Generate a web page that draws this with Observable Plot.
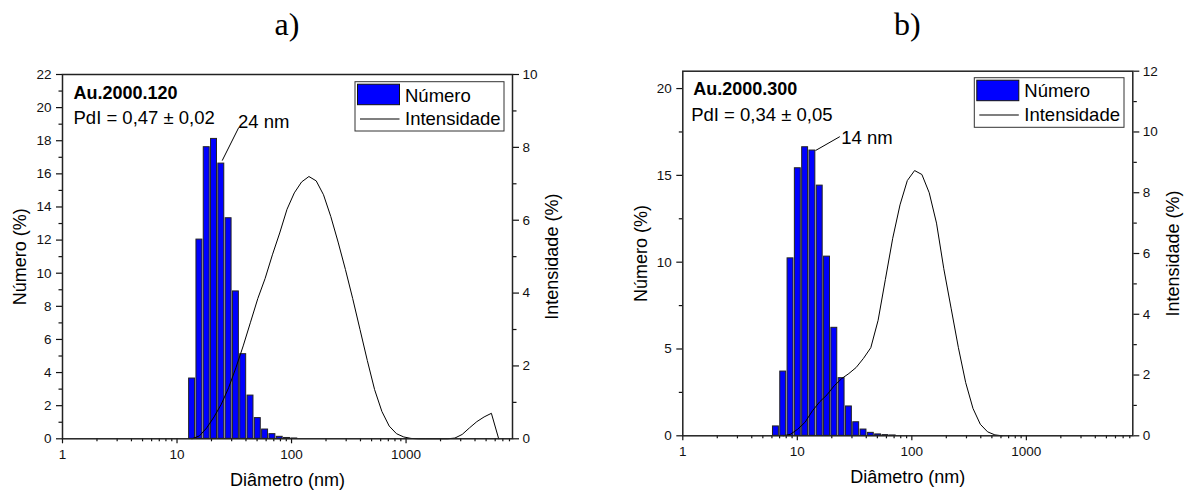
<!DOCTYPE html>
<html><head><meta charset="utf-8">
<script src="https://cdn.jsdelivr.net/npm/d3@7"></script>
<script src="https://cdn.jsdelivr.net/npm/@observablehq/plot@0.6"></script>
<style>
body{margin:0;background:#fff;}
#wrap{position:relative;width:1191px;height:491px;overflow:hidden;background:#fff;font-family:"Liberation Sans",Arial,sans-serif;}
#wrap > svg{position:absolute;top:0;}
</style></head><body><div id="wrap"></div>
<script>
// ---------- data ----------
// Panel a) Au.2000.120
const diamNumA = [13.54, 15.69, 18.17, 21.04, 24.36, 28.21, 32.67, 37.84, 43.82, 50.75, 58.77, 68.06, 78.82, 91.28, 105.7];
const numA     = [3.64, 12.03, 17.61, 18.11, 16.62, 13.32, 8.9, 5.11, 2.61, 1.25, 0.56, 0.28, 0.12, 0.05, 0.02];
const diamIntA = [13.54, 15.69, 18.17, 21.04, 24.36, 28.21, 32.67, 37.84, 43.82, 50.75, 58.77, 68.06, 78.82, 91.28, 105.7, 122.4, 141.8, 164.2, 190.1, 220.2, 255.0, 295.3, 342.0, 396.1, 458.7, 531.2, 615.1, 712.4, 825.0, 955.4, 1106, 1281, 1484, 1718, 1990, 2305, 2669, 3091, 3580, 4145, 4801, 5560, 6439];
const intA     = [0, 0.08, 0.3, 0.6, 0.95, 1.4, 1.95, 2.55, 3.2, 3.85, 4.4, 5.05, 5.65, 6.3, 6.75, 7.05, 7.2, 7.08, 6.7, 6.1, 5.4, 4.65, 3.85, 3.0, 2.15, 1.35, 0.75, 0.35, 0.14, 0.05, 0.01, 0, 0, 0, 0, 0, 0.02, 0.12, 0.3, 0.47, 0.6, 0.7, 0];
// Panel b) Au.2000.300
const diamNumB = [6.503, 7.531, 8.721, 10.1, 11.7, 13.54, 15.69, 18.17, 21.04, 24.36, 28.21, 32.67, 37.84, 43.82, 50.75, 58.77, 68.06];
const numB     = [0.54, 3.70, 10.22, 15.41, 16.62, 16.43, 14.41, 10.32, 6.22, 3.32, 1.69, 0.78, 0.36, 0.17, 0.08, 0.04, 0.02];
const diamIntB = [7.531, 8.721, 10.1, 11.7, 13.54, 15.69, 18.17, 21.04, 24.36, 28.21, 32.67, 37.84, 43.82, 50.75, 58.77, 68.06, 78.82, 91.28, 105.7, 122.4, 141.8, 164.2, 190.1, 220.2, 255.0, 295.3, 342.0, 396.1, 458.7, 531.2, 615.1];
const intB     = [0, 0.05, 0.22, 0.45, 0.82, 1.12, 1.35, 1.65, 1.88, 2.05, 2.25, 2.55, 2.9, 3.8, 5.15, 6.5, 7.6, 8.4, 8.73, 8.6, 8.0, 7.0, 5.5, 4.2, 2.9, 1.75, 0.9, 0.38, 0.13, 0.03, 0];

const xMajor = [1, 10, 100, 1000];
const xMinorMult = [2, 3, 4, 5, 6, 7, 8, 9];
const xMax = 8500;
const yMajorA = [0, 2, 4, 6, 8, 10, 12, 14, 16, 18, 20, 22];
const yMinorA = [1, 3, 5, 7, 9, 11, 13, 15, 17, 19, 21];
const rMajorA = [0, 2, 4, 6, 8, 10];
const rMinorA = [1, 3, 5, 7, 9];
const yMajorB = [0, 5, 10, 15, 20];
const yMinorB = [2.5, 7.5, 12.5, 17.5];
const rMajorB = [0, 2, 4, 6, 8, 10, 12];
const rMinorB = [1, 3, 5, 7, 9, 11];

const titleX = "Diâmetro (nm)";
const titleYL = "Número (%)";
const titleYR = "Intensidade (%)";

// ---------- drawing ----------
const FONT = '"Liberation Sans", Arial, sans-serif';
const minorX = xMajor.flatMap(p => xMinorMult.map(m => m * p)).filter(v => v <= xMax);

function panel(o) {
  const k = o.yMax / o.rMax;
  const bars = o.numD.map((d, i) => ({d, v: o.numV[i]}));
  const line = o.intD.map((d, i) => ({d, v: o.intV[i] * k}));
  const half = Math.sqrt(o.numD[1] / o.numD[0]);
  const svg = Plot.plot({
    width: o.width, height: 491,
    marginLeft: o.ml, marginRight: o.mr, marginTop: o.mt, marginBottom: o.mb,
    x: {type: "log", domain: [1, xMax]},
    y: {domain: [0, o.yMax]},
    style: {fontFamily: FONT, fontSize: "13.5px", color: "#111", background: "transparent", overflow: "visible"},
    marks: [
      Plot.rectY(bars, {x1: d => d.d / half, x2: d => d.d * half, y: "v", fill: "#0000ff", stroke: "#222", strokeWidth: 1, insetLeft: 0.7, insetRight: 0.7}),
      Plot.line(line, {x: "d", y: "v", stroke: "#000", strokeWidth: 1}),
      Plot.link([0], {x1: () => o.link[0], y1: () => o.link[1], x2: () => o.link[2], y2: () => o.link[3], stroke: "#000", strokeWidth: 1}),
      Plot.text([o.name], {text: d => d, frameAnchor: "top-left", textAnchor: "start", lineAnchor: "top", dx: o.nameDx, dy: 11.5, fontSize: 18, fontWeight: "bold", fill: "#000"}),
      Plot.text([o.pdi], {text: d => d, frameAnchor: "top-left", textAnchor: "start", lineAnchor: "top", dx: o.pdiDx, dy: 36.5, fontSize: 18.5, fill: "#000"}),
      Plot.text([o.peak], {text: d => d, frameAnchor: "top-left", textAnchor: "start", lineAnchor: "top", dx: o.peakDx, dy: o.peakDy, fontSize: 18.5, fill: "#000"}),
      Plot.axisX({ticks: xMajor, tickFormat: d => String(d), tickSize: 5, tickPadding: 5.5, label: null, strokeWidth: 1.2}),
      Plot.axisX({ticks: minorX, tickFormat: () => "", tickSize: 3, label: null, strokeWidth: 1.2}),
      Plot.axisY({anchor: "left", ticks: o.yMajor, tickFormat: d => String(d), tickSize: 6, tickPadding: 5, label: null, strokeWidth: 1.2}),
      Plot.axisY({anchor: "left", ticks: o.yMinor, tickFormat: () => "", tickSize: 3.5, label: null, strokeWidth: 1.2}),
      Plot.axisY({anchor: "right", ticks: o.rMajor.map(v => v * k), tickFormat: v => String(Math.round(v / k)), tickSize: 6, tickPadding: 4, label: null, strokeWidth: 1.2}),
      Plot.axisY({anchor: "right", ticks: o.rMinor.map(v => v * k), tickFormat: () => "", tickSize: 3.5, label: null, strokeWidth: 1.2}),
      Plot.frame({stroke: "#222", strokeWidth: 1.5}),
      Plot.text([titleX], {text: d => d, frameAnchor: "bottom", textAnchor: "middle", lineAnchor: "middle", dy: o.xtDy, fontSize: 18, fill: "#000"}),
      Plot.text([titleYL], {text: d => d, frameAnchor: "left", textAnchor: "middle", lineAnchor: "middle", dx: -42, rotate: -90, fontSize: 18, fill: "#000"}),
      Plot.text([titleYR], {text: d => d, frameAnchor: "right", textAnchor: "middle", lineAnchor: "middle", dx: 40, rotate: -90, fontSize: 18, fill: "#000"})
    ]
  });
  svg.style.left = o.left + "px";
  return svg;
}

const wrap = document.getElementById("wrap");
wrap.appendChild(panel({
  left: 0, width: 595, ml: 62, mr: 83, mt: 74, mb: 52.7,
  numD: diamNumA, numV: numA, intD: diamIntA, intV: intA,
  yMax: 22, rMax: 10, yMajor: yMajorA, yMinor: yMinorA, rMajor: rMajorA, rMinor: rMinorA,
  name: "Au.2000.120", pdi: "PdI = 0,47 ± 0,02", peak: "24 nm",
  nameDx: 11, pdiDx: 11, peakDx: 175.5, peakDy: 40,
  link: [24.8, 16.8, 34.6, 18.8], xtDy: 41.7
}));
wrap.appendChild(panel({
  left: 595, width: 596, ml: 87.3, mr: 58.7, mt: 70.7, mb: 55.7,
  numD: diamNumB, numV: numB, intD: diamIntB, intV: intB,
  yMax: 21, rMax: 12, yMajor: yMajorB, yMinor: yMinorB, rMajor: rMajorB, rMinor: rMinorB,
  name: "Au.2000.300", pdi: "PdI = 0,34 ± 0,05", peak: "14 nm",
  nameDx: 10.4, pdiDx: 8.4, peakDx: 158.4, peakDy: 59.8,
  link: [14.42, 16.43, 23.5, 17.23], xtDy: 41.2
}));

// ---------- overlay: panel letters and legends ----------
const NS = "http://www.w3.org/2000/svg";
const ov = document.createElementNS(NS, "svg");
ov.setAttribute("width", 1191); ov.setAttribute("height", 491);
ov.style.left = "0px";
function el(tag, attrs, txt) {
  const e = document.createElementNS(NS, tag);
  for (const a in attrs) e.setAttribute(a, attrs[a]);
  if (txt != null) e.textContent = txt;
  ov.appendChild(e); return e;
}
const panelLetters = [["a)", 287], ["b)", 907.3]];
for (const [t, x] of panelLetters) el("text", {x, y: 35, "text-anchor": "middle", "font-family": '"Liberation Serif", "Times New Roman", serif', "font-size": 32, fill: "#000"}, t);
const legendItems = ["Número", "Intensidade"];
function legend(x0, y0, w, h, rowY) {
  el("rect", {x: x0, y: y0, width: w, height: h, fill: "#fff", stroke: "#333", "stroke-width": 1});
  el("rect", {x: x0 + 2.5, y: y0 + 2.5, width: 42, height: 20.5, fill: "#0000ff", stroke: "#111", "stroke-width": 1});
  el("line", {x1: x0 + 5, x2: x0 + 44.5, y1: y0 + 37.3, y2: y0 + 37.3, stroke: "#555", "stroke-width": 1.4});
  el("text", {x: x0 + 50, y: y0 + rowY[0], "font-family": FONT, "font-size": 18.5, fill: "#000"}, legendItems[0]);
  el("text", {x: x0 + 50, y: y0 + rowY[1], "font-family": FONT, "font-size": 18.5, fill: "#000"}, legendItems[1]);
}
legend(355, 81.7, 149, 49.3, [19.8, 43.3]);
legend(974.3, 77.7, 149.7, 49.6, [18.8, 42.8]);
wrap.appendChild(ov);
</script>
</body></html>
